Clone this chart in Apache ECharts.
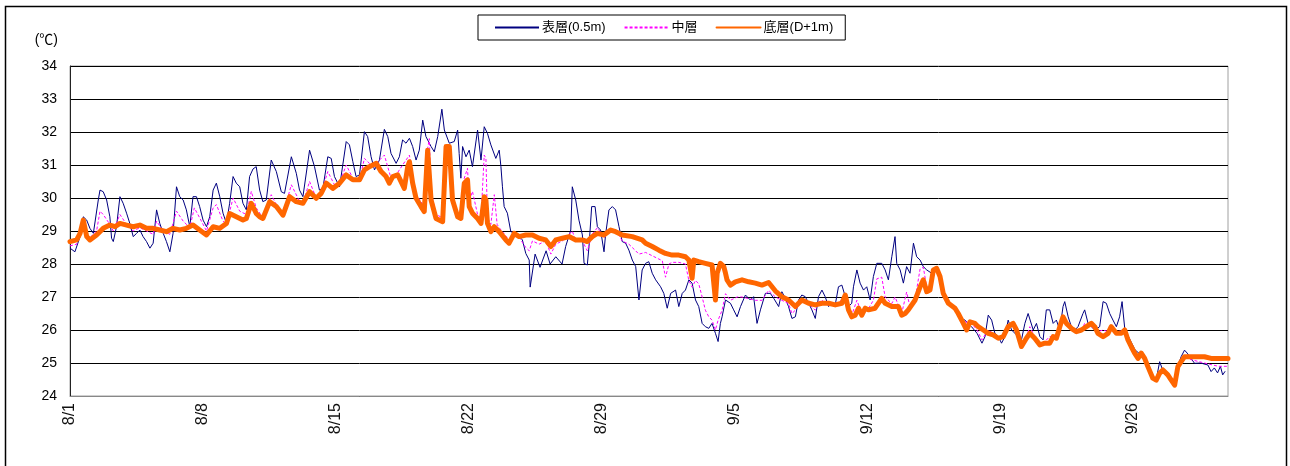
<!DOCTYPE html>
<html>
<head>
<meta charset="utf-8">
<title>水温の推移</title>
<script src="https://cdn.jsdelivr.net/npm/echarts@6/dist/echarts.min.js"></script>
<style>
  html, body { margin: 0; padding: 0; background: #fff; }
  #chart { width: 1290px; height: 466px; }
</style>
</head>
<body>
<div id="chart"></div>
<script>
// Day offset from 8/1 00:00, water temperature (°C)
const seriesNames = ['表層(0.5m)', '中層', '底層(D+1m)'];
const tickLabels = ['8/1', '8/8', '8/15', '8/22', '8/29', '9/5', '9/12', '9/19', '9/26'];

const surface = [[0.00,28.48],[0.26,28.37],[0.53,28.83],[0.70,29.43],[0.88,29.33],[1.05,29.08],[1.23,28.93],[1.49,29.94],[1.58,30.24],[1.75,30.19],[1.93,29.94],[2.10,29.43],[2.19,28.78],[2.28,28.68],[2.45,29.13],[2.63,30.04],[2.80,29.84],[2.98,29.54],[3.15,29.23],[3.33,28.83],[3.51,28.93],[3.68,29.03],[3.85,28.83],[4.03,28.68],[4.21,28.48],[4.38,28.63],[4.56,29.64],[4.73,29.23],[4.91,28.93],[5.08,28.68],[5.26,28.37],[5.43,28.93],[5.61,30.34],[5.78,30.04],[5.96,29.94],[6.13,29.64],[6.31,29.13],[6.48,30.04],[6.66,30.04],[6.83,29.74],[7.01,29.33],[7.19,29.13],[7.36,29.43],[7.54,30.24],[7.71,30.45],[7.89,30.04],[8.06,29.54],[8.24,29.23],[8.41,29.84],[8.59,30.65],[8.76,30.45],[8.94,30.34],[9.11,29.84],[9.29,29.64],[9.46,30.65],[9.64,30.88],[9.81,30.95],[9.99,30.24],[10.16,29.89],[10.34,29.94],[10.60,31.15],[10.87,30.80],[11.13,30.19],[11.30,30.14],[11.66,31.25],[11.92,30.75],[12.09,30.24],[12.27,30.04],[12.62,31.45],[12.88,30.95],[13.14,30.24],[13.32,30.29],[13.58,31.25],[13.76,31.20],[13.93,30.65],[14.20,30.34],[14.55,31.71],[14.72,31.61],[14.90,31.10],[15.07,30.65],[15.25,30.70],[15.51,32.01],[15.68,31.86],[15.86,31.25],[16.04,30.85],[16.30,31.15],[16.56,32.08],[16.74,31.86],[16.91,31.35],[17.18,31.05],[17.35,31.25],[17.52,31.76],[17.70,31.66],[17.88,31.81],[18.05,31.56],[18.23,31.15],[18.40,31.45],[18.58,32.36],[18.75,31.86],[19.02,31.56],[19.19,31.40],[19.37,31.86],[19.59,32.69],[19.72,32.06],[19.98,31.66],[20.24,31.71],[20.42,32.06],[20.50,31.35],[20.59,30.60],[20.68,31.56],[20.86,31.25],[21.03,31.45],[21.20,30.95],[21.47,32.06],[21.65,31.15],[21.82,32.16],[21.99,31.96],[22.17,31.61],[22.43,31.20],[22.61,31.45],[22.70,30.95],[22.78,30.34],[22.87,29.74],[23.04,29.54],[23.22,28.98],[23.49,28.93],[23.83,28.73],[24.01,28.32],[24.19,28.12],[24.24,27.30],[24.50,28.30],[24.76,27.90],[25.08,28.40],[25.29,28.00],[25.59,28.22],[25.92,28.00],[26.11,28.53],[26.38,29.03],[26.46,30.34],[26.64,29.94],[26.81,29.33],[26.99,28.88],[27.08,28.02],[27.25,27.97],[27.34,28.53],[27.48,29.74],[27.66,29.74],[27.78,29.13],[27.95,29.03],[28.13,28.37],[28.21,28.88],[28.39,29.64],[28.57,29.74],[28.74,29.64],[28.92,29.13],[29.09,28.68],[29.27,28.63],[29.44,28.42],[29.62,28.12],[29.80,27.92],[29.97,26.91],[30.14,27.82],[30.32,28.02],[30.49,28.07],[30.67,27.72],[30.85,27.52],[31.11,27.31],[31.28,27.11],[31.46,26.66],[31.64,27.11],[31.90,27.21],[32.07,26.71],[32.25,27.11],[32.42,27.21],[32.60,27.52],[32.77,27.42],[32.95,26.91],[33.12,26.71],[33.30,26.20],[33.47,26.10],[33.65,26.05],[33.82,26.20],[34.00,25.90],[34.14,25.65],[34.26,26.20],[34.35,26.40],[34.53,26.91],[34.79,26.81],[34.96,26.61],[35.14,26.40],[35.32,26.71],[35.58,27.06],[35.84,26.91],[36.01,27.01],[36.19,26.20],[36.37,26.61],[36.63,27.11],[36.89,27.11],[37.07,26.96],[37.33,26.71],[37.50,27.16],[37.68,26.96],[37.85,26.71],[38.03,26.35],[38.21,26.40],[38.38,26.91],[38.55,27.06],[38.73,27.01],[38.91,26.81],[39.08,26.61],[39.26,26.35],[39.43,27.01],[39.61,27.21],[39.78,27.01],[39.96,26.71],[40.13,26.81],[40.31,26.76],[40.48,27.31],[40.66,27.36],[40.84,27.01],[41.01,26.71],[41.18,26.81],[41.27,27.31],[41.45,27.82],[41.62,27.42],[41.80,27.21],[41.97,27.31],[42.15,26.91],[42.32,27.62],[42.50,28.02],[42.76,28.02],[42.94,27.82],[43.11,27.52],[43.29,28.22],[43.46,28.83],[43.55,28.02],[43.73,27.82],[43.90,27.42],[44.07,27.92],[44.25,27.72],[44.43,28.63],[44.60,28.22],[44.78,28.12],[44.95,27.92],[45.13,27.82],[45.39,27.72],[45.65,27.80],[45.83,27.55],[46.00,27.10],[46.27,26.80],[46.62,26.60],[46.79,26.40],[47.14,26.30],[47.49,26.10],[47.78,25.90],[48.04,25.60],[48.20,25.80],[48.37,26.45],[48.55,26.30],[48.72,25.90],[48.90,25.80],[49.07,25.60],[49.25,25.80],[49.42,26.30],[49.60,26.00],[49.86,25.85],[50.12,25.70],[50.30,26.20],[50.47,26.50],[50.56,26.56],[50.74,26.00],[50.91,26.20],[51.09,25.80],[51.26,25.70],[51.43,26.61],[51.61,26.61],[51.79,26.20],[51.96,26.30],[52.14,26.00],[52.31,26.71],[52.40,26.86],[52.58,26.40],[52.75,26.10],[52.93,26.00],[53.10,26.10],[53.36,26.50],[53.45,26.61],[53.63,26.20],[53.80,26.10],[53.98,26.00],[54.24,26.10],[54.42,26.86],[54.59,26.81],[54.77,26.50],[54.94,26.30],[55.12,26.10],[55.29,26.40],[55.42,26.86],[55.56,26.05],[55.80,25.75],[56.10,25.40],[56.40,25.25],[56.70,25.10],[57.00,24.60],[57.22,24.50],[57.40,25.04],[57.55,24.80],[57.85,24.60],[58.19,24.30],[58.36,24.90],[58.53,25.19],[58.71,25.39],[58.85,25.30],[59.24,24.99],[59.55,25.00],[59.94,24.94],[60.11,24.74],[60.28,24.85],[60.45,24.70],[60.60,24.90],[60.72,24.64],[60.85,24.75]];

const middle = [[0.00,28.55],[0.35,28.60],[0.70,29.30],[0.88,28.90],[1.05,28.80],[1.40,29.00],[1.58,29.60],[1.75,29.50],[2.10,29.20],[2.28,29.00],[2.63,29.50],[2.98,29.20],[3.33,29.00],[3.68,29.10],[4.03,29.00],[4.38,28.90],[4.56,29.30],[4.91,29.00],[5.26,28.90],[5.61,29.60],[5.96,29.30],[6.31,29.10],[6.55,29.70],[6.83,29.40],[7.19,29.00],[7.54,29.70],[7.71,29.80],[8.06,29.30],[8.24,29.20],[8.59,30.00],[8.94,29.60],[9.29,29.50],[9.55,30.20],[9.81,29.70],[10.16,29.40],[10.60,30.10],[10.87,29.80],[11.22,29.50],[11.66,30.40],[12.09,29.90],[12.27,29.85],[12.62,30.50],[12.97,30.00],[13.23,30.15],[13.58,30.80],[13.93,30.40],[14.20,30.45],[14.55,31.00],[14.90,30.60],[15.25,30.55],[15.51,31.20],[15.86,31.00],[16.13,31.05],[16.56,31.30],[16.91,30.60],[17.18,30.70],[17.52,31.00],[17.88,31.30],[18.05,30.60],[18.23,30.10],[18.49,29.90],[18.66,29.70],[18.84,31.50],[18.93,31.80],[19.02,30.20],[19.28,29.50],[19.63,29.40],[19.81,31.60],[19.98,31.60],[20.15,30.10],[20.42,29.50],[20.59,29.50],[20.77,30.60],[20.94,30.90],[21.03,29.90],[21.20,30.20],[21.47,29.50],[21.65,29.40],[21.82,31.30],[21.91,31.20],[21.99,29.40],[22.17,29.20],[22.35,30.10],[22.50,29.20],[22.61,29.10],[22.96,28.85],[23.13,28.70],[23.40,28.90],[23.66,28.80],[24.01,28.50],[24.19,28.40],[24.36,28.70],[24.71,28.60],[25.06,28.70],[25.33,28.30],[25.59,28.60],[25.94,28.70],[26.29,28.90],[26.46,29.00],[26.64,28.70],[26.99,28.70],[27.25,28.40],[27.51,28.90],[27.78,29.10],[28.13,28.80],[28.48,29.00],[28.74,29.05],[29.09,28.70],[29.44,28.60],[29.62,28.50],[29.97,28.30],[30.32,28.35],[30.67,28.25],[31.02,28.15],[31.20,28.10],[31.37,27.60],[31.55,28.00],[31.72,28.05],[32.07,28.05],[32.42,28.00],[32.60,27.50],[32.77,27.30],[32.95,27.50],[33.12,27.40],[33.30,27.00],[33.47,26.60],[33.65,26.40],[33.82,26.30],[34.00,26.00],[34.14,26.30],[34.35,26.60],[34.53,27.10],[34.79,26.90],[35.14,27.00],[35.40,27.00],[35.75,26.95],[36.10,26.90],[36.45,26.90],[36.80,27.20],[37.16,27.00],[37.50,26.90],[37.85,26.80],[38.03,26.50],[38.21,26.60],[38.55,26.90],[38.91,26.80],[39.26,26.60],[39.43,26.85],[39.61,26.90],[39.96,26.75],[40.31,26.80],[40.66,26.90],[40.84,27.00],[41.01,26.65],[41.18,26.45],[41.45,26.90],[41.71,26.50],[42.06,26.65],[42.32,26.90],[42.50,27.55],[42.76,27.60],[42.94,27.00],[43.29,26.80],[43.46,27.00],[43.64,26.75],[43.81,26.50],[44.07,27.15],[44.25,26.70],[44.52,26.95],[44.78,27.85],[44.95,27.90],[45.13,27.30],[45.30,27.30],[45.48,27.85],[45.65,27.90],[45.83,27.65],[46.00,27.15],[46.27,26.85],[46.62,26.70],[46.88,26.40],[47.14,26.25],[47.49,26.20],[47.78,26.00],[48.04,25.70],[48.20,25.85],[48.37,26.00],[48.63,25.90],[48.90,25.70],[49.16,25.80],[49.42,26.10],[49.68,26.15],[49.86,25.95],[50.12,25.55],[50.38,25.80],[50.56,26.10],[50.82,25.80],[51.09,25.55],[51.35,25.65],[51.61,25.80],[51.79,25.80],[51.96,25.75],[52.14,26.10],[52.31,26.40],[52.49,26.20],[52.75,26.05],[53.01,25.95],[53.28,26.00],[53.45,26.20],[53.80,26.10],[54.15,25.95],[54.42,26.00],[54.68,25.95],[54.85,26.10],[55.12,25.90],[55.38,26.00],[55.56,25.95],[55.73,25.70],[55.90,25.50],[56.08,25.30],[56.26,25.15],[56.43,25.30],[56.61,25.10],[56.78,24.85],[57.04,24.50],[57.22,24.45],[57.40,24.70],[57.57,24.80],[57.83,24.60],[58.01,24.45],[58.19,24.35],[58.36,24.90],[58.53,25.05],[58.71,25.20],[59.06,25.10],[59.41,25.05],[59.76,25.00],[60.11,24.95],[60.50,24.90],[60.95,24.90]];

const bottom = [[0.00,28.68],[0.35,28.73],[0.53,28.93],[0.70,29.33],[0.88,28.83],[1.05,28.73],[1.40,28.88],[1.75,29.08],[2.10,29.18],[2.37,29.13],[2.63,29.23],[2.98,29.18],[3.33,29.13],[3.68,29.18],[4.03,29.08],[4.38,29.08],[4.73,29.03],[5.08,28.98],[5.43,29.08],[5.78,29.03],[6.13,29.08],[6.48,29.18],[6.83,29.03],[7.19,28.88],[7.54,29.13],[7.89,29.08],[8.24,29.23],[8.41,29.53],[8.76,29.43],[9.11,29.33],[9.29,29.38],[9.55,29.84],[9.81,29.53],[9.99,29.43],[10.16,29.38],[10.52,29.89],[10.87,29.74],[11.22,29.48],[11.57,30.04],[11.92,29.89],[12.27,29.84],[12.62,30.19],[12.97,29.99],[13.23,30.14],[13.50,30.45],[13.84,30.29],[14.20,30.45],[14.55,30.70],[14.90,30.55],[15.25,30.55],[15.51,30.85],[15.77,30.95],[16.13,31.05],[16.39,30.80],[16.65,30.65],[16.82,30.45],[17.00,30.65],[17.26,30.70],[17.35,30.60],[17.61,30.29],[17.79,30.95],[17.88,31.10],[18.05,30.45],[18.23,29.99],[18.49,29.74],[18.66,29.59],[18.84,31.45],[18.93,31.51],[19.02,29.94],[19.28,29.38],[19.63,29.28],[19.81,31.56],[19.98,31.56],[20.15,29.94],[20.42,29.43],[20.59,29.38],[20.77,30.45],[20.94,30.55],[21.03,29.74],[21.20,29.54],[21.47,29.38],[21.65,29.23],[21.82,30.04],[21.91,29.94],[21.99,29.23],[22.17,28.98],[22.35,29.13],[22.61,28.98],[22.96,28.73],[23.13,28.63],[23.40,28.93],[23.66,28.83],[24.01,28.88],[24.36,28.88],[24.71,28.78],[25.06,28.73],[25.33,28.53],[25.59,28.73],[25.94,28.78],[26.29,28.83],[26.64,28.73],[26.99,28.73],[27.25,28.68],[27.51,28.83],[27.78,28.93],[28.13,28.88],[28.48,29.03],[28.74,28.98],[29.09,28.88],[29.62,28.83],[30.14,28.73],[30.32,28.63],[30.67,28.53],[31.02,28.42],[31.37,28.32],[31.72,28.27],[32.07,28.27],[32.42,28.22],[32.60,28.12],[32.77,27.57],[32.86,28.12],[33.12,28.07],[33.47,28.02],[33.82,27.97],[34.00,26.91],[34.09,27.72],[34.26,28.02],[34.44,27.92],[34.53,27.72],[34.61,27.52],[34.79,27.36],[35.05,27.46],[35.40,27.52],[35.75,27.46],[36.10,27.42],[36.45,27.36],[36.80,27.44],[37.16,27.18],[37.50,27.01],[37.85,26.91],[38.21,26.71],[38.55,26.91],[38.91,26.81],[39.26,26.76],[39.61,26.81],[39.96,26.81],[40.31,26.76],[40.66,26.81],[40.84,27.06],[41.01,26.61],[41.18,26.40],[41.36,26.45],[41.54,26.66],[41.71,26.45],[41.89,26.66],[42.06,26.61],[42.41,26.66],[42.76,26.96],[42.94,26.81],[43.29,26.71],[43.64,26.71],[43.81,26.45],[43.99,26.50],[44.16,26.61],[44.52,26.91],[44.78,27.31],[44.95,27.52],[45.13,27.16],[45.30,27.21],[45.48,27.82],[45.65,27.87],[45.83,27.62],[46.00,27.11],[46.27,26.81],[46.62,26.66],[46.79,26.50],[47.06,26.20],[47.23,26.00],[47.41,26.25],[47.67,26.20],[47.84,26.10],[48.11,26.00],[48.37,25.90],[48.63,25.85],[48.90,25.75],[49.16,25.80],[49.42,26.10],[49.68,26.20],[49.86,26.00],[50.12,25.50],[50.38,25.75],[50.56,25.90],[50.82,25.75],[51.09,25.55],[51.35,25.60],[51.61,25.60],[51.79,25.80],[51.96,25.75],[52.14,26.10],[52.31,26.40],[52.49,26.20],[52.75,26.05],[53.01,25.95],[53.28,26.00],[53.54,26.10],[53.80,26.20],[53.98,26.10],[54.15,25.90],[54.42,25.80],[54.68,25.90],[54.85,26.10],[55.12,25.90],[55.38,25.90],[55.56,26.00],[55.73,25.70],[55.90,25.50],[56.08,25.30],[56.26,25.14],[56.43,25.30],[56.61,25.14],[56.78,24.89],[57.04,24.54],[57.22,24.48],[57.40,24.69],[57.57,24.79],[57.83,24.64],[58.01,24.48],[58.19,24.33],[58.36,24.89],[58.53,25.04],[58.71,25.19],[59.06,25.19],[59.41,25.19],[59.76,25.19],[60.11,25.14],[61.00,25.14]];

const FONT = "'Liberation Sans', 'Noto Sans CJK JP', sans-serif";

const chart = echarts.init(document.getElementById('chart'), null, { renderer: 'canvas' });

chart.setOption({
  animation: false,
  backgroundColor: '#fff',
  textStyle: { fontFamily: FONT },
  graphic: [{
    type: 'rect',
    z: -1,
    shape: { x: 5.5, y: 6.5, width: 1281, height: 480 },
    style: { fill: 'none', stroke: '#000', lineWidth: 1.5 }
  }],
  legend: {
    left: 478,
    top: 15,
    padding: [6, 12, 6, 16],
    borderColor: '#000',
    borderWidth: 1,
    borderRadius: 0,
    itemWidth: 44,
    itemHeight: 12,
    itemGap: 18,
    // line-only keys (no marker dot)
    itemStyle: { color: 'rgba(0,0,0,0)', borderColor: 'rgba(0,0,0,0)', borderWidth: 0 },
    textStyle: { fontFamily: FONT, fontSize: 13, color: '#000', padding: [0, 0, 0, -2] },
    data: seriesNames
  },
  grid: {
    left: 70, right: 62, top: 66, bottom: 70,
    show: true, borderColor: '#a0a0a0', borderWidth: 1,
    containLabel: false
  },
  xAxis: {
    type: 'value',
    min: 0, max: 61, interval: 7,
    axisLine: { show: true, lineStyle: { color: '#888', width: 1 } },
    axisTick: { show: false },
    splitLine: { show: false },
    axisLabel: {
      rotate: 90,
      margin: 7,
      fontSize: 16,
      color: '#111',
      fontFamily: FONT,
      formatter: v => (v % 7 === 0 ? tickLabels[v / 7] : '')
    }
  },
  yAxis: {
    type: 'value',
    min: 24, max: 34, interval: 1,
    name: '(℃)',
    nameLocation: 'end',
    nameGap: 19,
    nameTextStyle: { fontFamily: FONT, fontSize: 14, color: '#000', align: 'right', padding: [0, 12, 0, 0] },
    axisLine: { show: true, lineStyle: { color: '#222', width: 1 } },
    axisTick: { show: false },
    splitLine: { show: true, lineStyle: { color: '#000', width: 1 } },
    axisLabel: { margin: 13, fontSize: 14, color: '#000', fontFamily: FONT }
  },
  series: [
    {
      name: seriesNames[0], type: 'line', data: surface,
      showSymbol: false, symbol: 'none',
      lineStyle: { color: '#000080', width: 1 },
      itemStyle: { color: '#000080' },
      z: 2
    },
    {
      name: seriesNames[1], type: 'line', data: middle,
      showSymbol: false, symbol: 'none',
      lineStyle: { color: '#ff00ff', width: 1, type: [3, 2] },
      itemStyle: { color: '#ff00ff' },
      z: 3
    },
    {
      name: seriesNames[2], type: 'line', data: bottom,
      showSymbol: false, symbol: 'none',
      lineStyle: { color: '#ff6600', width: 5, join: 'round', cap: 'round' },
      itemStyle: { color: '#ff6600' },
      z: 4
    }
  ]
});
</script>
</body>
</html>
